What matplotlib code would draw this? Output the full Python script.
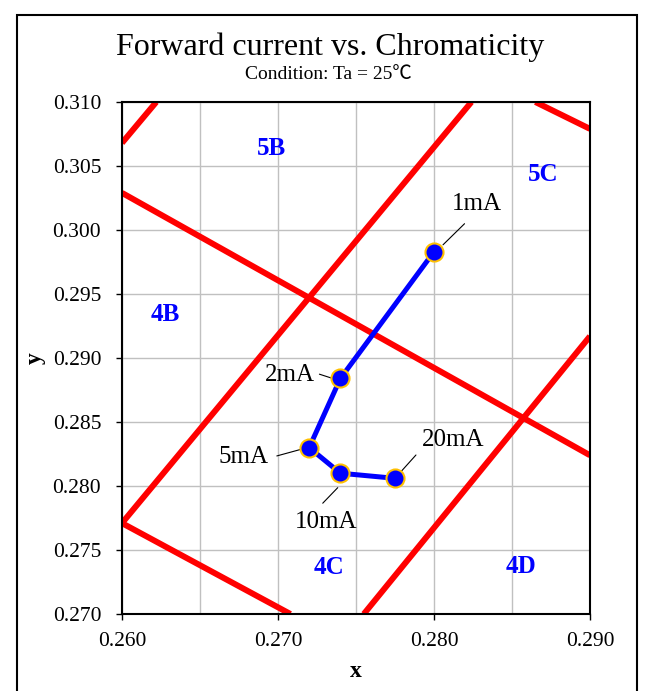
import matplotlib
matplotlib.use("Agg")
import matplotlib.pyplot as plt
from matplotlib.patches import Rectangle
from matplotlib.transforms import offset_copy
import numpy as np

plt.rcParams['font.family'] = ['Liberation Serif', 'Noto Sans CJK JP', 'DejaVu Sans']

# forward current data points (CIE x, y)
cur_labels = ['1mA', '2mA', '5mA', '10mA', '20mA']
cie_x = [0.2800, 0.2740, 0.2720, 0.2740, 0.2775]
cie_y = [0.2983, 0.2884, 0.2830, 0.2810, 0.2806]

# rank boundary lines (start point, end point)
bnd_x0 = [0.2600, 0.2600, 0.2600, 0.2600, 0.2755, 0.2865]
bnd_y0 = [0.3068, 0.3029, 0.2771, 0.2771, 0.2700, 0.3100]
bnd_x1 = [0.2622, 0.2900, 0.2824, 0.2708, 0.2900, 0.2900]
bnd_y1 = [0.3100, 0.2824, 0.3100, 0.2700, 0.2917, 0.3079]

# rank names
rank_names = ['5B', '5C', '4B', '4C', '4D']
rank_x = [0.2696, 0.2870, 0.2628, 0.2733, 0.2856]
rank_y = [0.3064, 0.3043, 0.2934, 0.2736, 0.2737]

xticks = [0.260, 0.270, 0.280, 0.290]
yticks = [0.270, 0.275, 0.280, 0.285, 0.290, 0.295, 0.300, 0.305, 0.310]

fig = plt.figure(figsize=(6.53, 6.91), dpi=100)
ax = fig.add_axes([0.1868, 0.1114, 0.7167, 0.741])

ax.set_xlim(0.260, 0.290)
ax.set_ylim(0.270, 0.310)
ax.set_xticks(xticks)
ax.set_xticklabels(['%.3f' % v for v in xticks])
ax.set_yticks(yticks)
ax.set_yticklabels(['%.3f' % v for v in yticks])
ax.set_xticks(np.arange(0.265, 0.290, 0.005), minor=True)
ax.tick_params(axis='x', which='minor', length=0)
ax.grid(True, which='both', color='#c0c0c0', lw=1.0)
ax.set_axisbelow(True)
ax.tick_params(direction='out', length=4, width=1, labelsize=15.5)
ax.tick_params(axis='x', pad=9)
ax.tick_params(axis='y', pad=11)
for s in ax.spines.values():
    s.set_linewidth(1.5)

for i in range(len(bnd_x0)):
    ax.plot([bnd_x0[i], bnd_x1[i]], [bnd_y0[i], bnd_y1[i]], color='#ff0000',
            lw=4.3, solid_capstyle='butt', zorder=2)

ax.plot(cie_x, cie_y, color='#0000ff', lw=3.6, zorder=3)
ax.plot(cie_x, cie_y, 'o', ms=13, mfc='#0000ff', mec='#ffc000', mew=1.5,
        zorder=4, ls='none')

# label text offsets and leader line ends, in points from each marker
txt_off = [(31, 34.6), (-36.2, 2.4), (-47, -7), (-10.3, -35), (41.8, 27.6)]
lead_a = [(6.5, 5.0), (-5.5, 0), (-6.5, -1.4), (-1.9, -10.4), (4.3, 4.8)]
lead_b = [(22, 20.2), (-15.1, 3.1), (-23.3, -6.0), (-12.7, -21.6), (15.1, 16.8)]
for i, lab in enumerate(cur_labels):
    ax.annotate(lab, (cie_x[i], cie_y[i]), xytext=txt_off[i],
                textcoords='offset points', ha='center', va='center',
                fontsize=18, zorder=5)
    tr = offset_copy(ax.transData, fig=fig, x=lead_a[i][0], y=lead_a[i][1],
                     units='points')
    ax.annotate('', (cie_x[i], cie_y[i]), xycoords=tr,
                xytext=(lead_b[i][0] - lead_a[i][0], lead_b[i][1] - lead_a[i][1]),
                textcoords='offset points', zorder=3.5,
                arrowprops=dict(arrowstyle='-', lw=0.8, color='black',
                                shrinkA=0, shrinkB=0))

for i, r in enumerate(rank_names):
    ax.text(rank_x[i], rank_y[i], r, color='#0000ff', fontsize=18,
            fontweight='bold', ha='center', va='center', zorder=5)

ax.set_xlabel('x', fontsize=17, fontweight='bold', labelpad=7)
ax.set_ylabel('y', fontsize=17, fontweight='bold', labelpad=5)

fig.text(0.505, 0.932, 'Forward current vs. Chromaticity', fontsize=23,
         ha='center', va='center')
fig.text(0.503, 0.892, 'Condition: Ta = 25\u2103', fontsize=14,
         ha='center', va='center')

fig.patches.append(Rectangle((17 / 653, -0.01), 620 / 653, 1 - 15 / 691 + 0.01,
                             transform=fig.transFigure, fill=False,
                             lw=1.5, edgecolor='black'))

fig.savefig('out.png', dpi=100)
